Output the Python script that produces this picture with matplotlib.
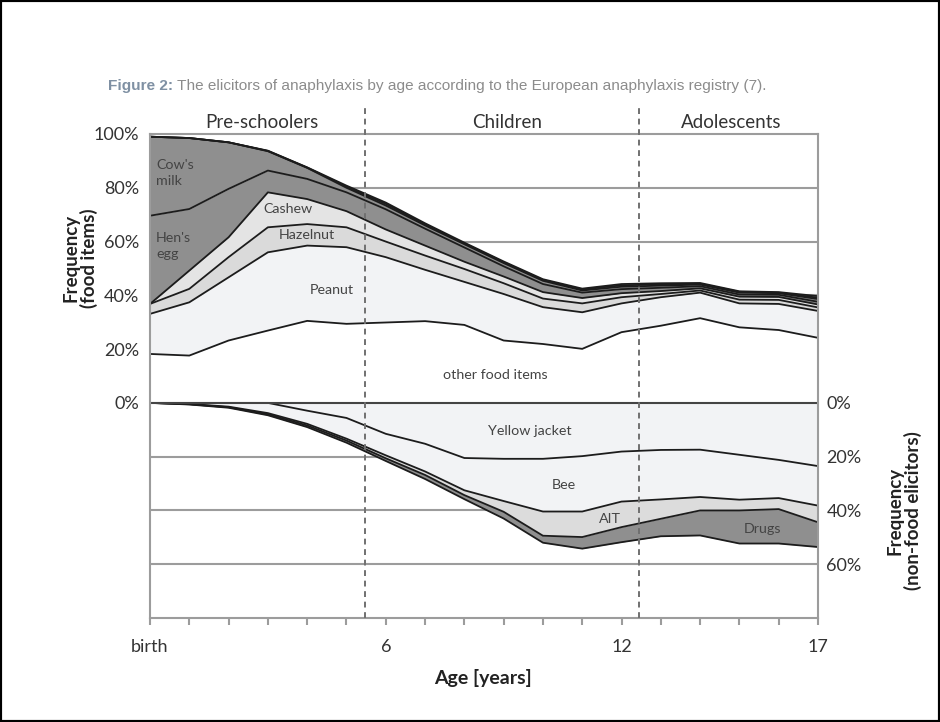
import numpy as np
import matplotlib.pyplot as plt
from matplotlib.patches import Rectangle

plt.rcParams['font.family'] = ['Lato', 'DejaVu Sans']

ages = np.arange(18)
age_ticklabels = ['birth', '', '', '', '', '', '6', '', '', '', '', '', '12', '', '', '', '', '17']
group_bounds = [5.47, 12.45]
groups = ['Pre-schoolers', 'Children', 'Adolescents']
group_centers = [2.85, 9.1, 14.8]

# food elicitors, % share per age (stacked upwards from 0)
other_food = [18.2, 17.6, 23.2, 26.9, 30.5, 29.4, 29.9, 30.4, 29.0, 23.2, 21.9, 20.1, 26.3, 28.7, 31.5, 28.1, 27.1, 24.2]
peanut = [14.9, 19.8, 23.5, 29.1, 28.0, 28.5, 24.3, 19.1, 16.0, 17.3, 13.7, 13.6, 10.7, 10.6, 9.5, 8.9, 9.7, 10.0]
hazelnut = [3.7, 5.0, 7.5, 9.3, 8.0, 7.4, 5.8, 5.3, 4.8, 4.0, 3.2, 3.3, 2.3, 1.2, 0.8, 1.4, 1.5, 1.3]
cashew = [0.0, 6.8, 7.4, 13.0, 9.3, 6.0, 4.5, 3.7, 2.7, 2.5, 2.4, 2.0, 1.5, 1.1, 0.8, 1.1, 1.1, 1.1]
hens_egg = [32.8, 22.9, 18.0, 8.1, 7.5, 7.0, 7.5, 6.3, 5.3, 3.8, 3.0, 2.0, 1.5, 1.2, 0.8, 0.8, 0.8, 1.0]
cows_milk = [29.4, 26.4, 17.3, 7.2, 4.1, 1.7, 1.4, 1.2, 1.2, 1.2, 1.2, 0.8, 0.9, 0.8, 0.6, 0.7, 0.6, 1.0]
misc_food_a = [0.0, 0.0, 0.0, 0.1, 0.1, 0.4, 0.6, 0.4, 0.3, 0.3, 0.3, 0.4, 0.5, 0.5, 0.3, 0.3, 0.2, 0.5]
misc_food_b = [0.0, 0.0, 0.0, 0.1, 0.1, 0.4, 0.5, 0.4, 0.3, 0.3, 0.3, 0.3, 0.5, 0.4, 0.3, 0.2, 0.2, 0.6]

# non-food elicitors, % share per age (stacked downwards from 0)
yellow_jacket = [0.0, 0.0, 0.0, 0.0, 2.9, 5.6, 11.5, 15.2, 20.5, 20.8, 20.8, 19.8, 18.1, 17.5, 17.4, 19.3, 21.2, 23.5]
bee = [0.0, 0.4, 1.4, 3.8, 4.9, 7.7, 8.0, 10.3, 12.0, 15.7, 19.6, 20.6, 18.6, 18.4, 17.6, 16.7, 14.2, 14.7]
ait = [0.0, 0.1, 0.2, 0.4, 0.6, 0.7, 1.1, 1.3, 1.8, 4.0, 9.0, 9.5, 9.5, 7.2, 5.0, 4.0, 4.1, 6.2]
drugs = [0.0, 0.1, 0.2, 0.4, 0.6, 0.8, 1.0, 1.5, 1.5, 2.5, 2.6, 4.3, 5.6, 6.5, 9.3, 12.3, 12.8, 9.2]

upper_ticks = [0, 20, 40, 60, 80, 100]
lower_ticks = [0, -20, -40, -60]

dark = '#8f8f8f'
upper = [(other_food, '#ffffff'), (peanut, '#f2f3f5'), (hazelnut, '#dadada'),
         (cashew, '#e4e4e4'), (hens_egg, dark), (cows_milk, dark),
         (misc_food_a, dark), (misc_food_b, dark)]
lower = [(yellow_jacket, '#f2f3f5'), (bee, '#f2f3f5'), (ait, '#dcdcdc'), (drugs, dark)]

fig = plt.figure(figsize=(9.4, 7.22), dpi=100)
ax = fig.add_axes([150 / 940, 1 - 618 / 722, 668 / 940, 484 / 722])
ax.set_xlim(0, 17)
ax.set_ylim(-80, 100)

grid_c = '#9c9c9c'
for y in [80, 60, 40, 20, -20, -40, -60]:
    ax.axhline(y, color=grid_c, lw=1.5, zorder=0)
for s in ax.spines.values():
    s.set_color(grid_c)
    s.set_linewidth(1.5)

edge = '#1c1c1c'
base = np.zeros(len(ages))
for vals, col in upper:
    top = base + np.array(vals)
    ax.fill_between(ages, base, top, color=col, lw=0, zorder=1)
    ax.plot(ages, top, color=edge, lw=1.3, zorder=2)
    base = top

base = np.zeros(len(ages))
for vals, col in lower:
    bot = base - np.array(vals)
    ax.fill_between(ages, bot, base, color=col, lw=0, zorder=1)
    ax.plot(ages, bot, color=edge, lw=1.3, zorder=2)
    base = bot

ax.axhline(0, color='#444444', lw=1.5, zorder=2)

for xb in group_bounds:
    ax.plot([xb, xb], [-80, 110.5], color='#707070', lw=1.4, ls=(0, (3, 2.4)),
            clip_on=False, zorder=3)
for name, xc in zip(groups, group_centers):
    ax.text(xc, 104.2, name, ha='center', va='center', fontsize=13.5, color='#333333')

lab_c = '#444444'
lab_fs = 10.3
ax.text(0.15, 85.5, "Cow's\nmilk", fontsize=lab_fs, color=lab_c, va='center', linespacing=1.4)
ax.text(0.15, 58.5, "Hen's\negg", fontsize=lab_fs, color=lab_c, va='center', linespacing=1.4)
ax.text(3.5, 72, 'Cashew', fontsize=lab_fs, color=lab_c, ha='center', va='center')
ax.text(4.0, 62.6, 'Hazelnut', fontsize=lab_fs, color=lab_c, ha='center', va='center')
ax.text(4.62, 42, 'Peanut', fontsize=lab_fs, color=lab_c, ha='center', va='center')
ax.text(8.8, 10.4, 'other food items', fontsize=lab_fs, color=lab_c, ha='center', va='center')
ax.text(9.67, -10.3, 'Yellow jacket', fontsize=lab_fs, color=lab_c, ha='center', va='center')
ax.text(10.52, -30.4, 'Bee', fontsize=lab_fs, color=lab_c, ha='center', va='center')
ax.text(11.7, -43.1, 'AIT', fontsize=lab_fs, color=lab_c, ha='center', va='center')
ax.text(15.6, -46.8, 'Drugs', fontsize=lab_fs, color=lab_c, ha='center', va='center')

ax.set_xticks(ages)
ax.set_xticklabels(age_ticklabels)
ax.tick_params(axis='x', direction='out', length=5, width=1.5, color=grid_c,
               pad=10, labelsize=13, labelcolor='#333333')
ax.set_yticks(upper_ticks)
ax.set_yticklabels([f'{t}%' for t in upper_ticks])
ax.tick_params(axis='y', length=0, pad=8, labelsize=13, labelcolor='#333333')

ax2 = ax.twinx()
ax2.set_ylim(-80, 100)
ax2.set_yticks(lower_ticks)
ax2.set_yticklabels([f'{-t}%' for t in lower_ticks])
ax2.tick_params(axis='y', length=0, pad=6, labelsize=13, labelcolor='#333333')
for s in ax2.spines.values():
    s.set_visible(False)

fig.text(80 / 940, 1 - 258 / 722, 'Frequency\n(food items)', rotation=90, ha='center',
         va='center', fontsize=13.5, fontweight='bold', color='#222222', linespacing=1.05)
fig.text(904 / 940, 1 - 511 / 722, 'Frequency\n(non-food elicitors)', rotation=90,
         ha='center', va='center', fontsize=13.5, fontweight='bold', color='#222222',
         linespacing=1.05)
fig.text(483 / 940, 1 - 678 / 722, 'Age [years]', ha='center', va='center',
         fontsize=14, fontweight='bold', color='#222222')

# caption
cap_font = ['Liberation Sans', 'DejaVu Sans']
t1 = fig.text(108 / 940, 1 - 86 / 722, 'Figure 2:', family=cap_font, fontweight='bold',
              fontsize=11.1, color='#7f90a3', va='center')
fig.canvas.draw()
bb = t1.get_window_extent()
fig.text((bb.x1 + 4) / 940, 1 - 86 / 722,
         'The elicitors of anaphylaxis by age according to the European anaphylaxis registry (7).',
         family=cap_font, fontsize=11.1, color='#8c8c8c', va='center')

fig.patches.append(Rectangle((0, 0), 1, 1, transform=fig.transFigure, fill=False,
                             lw=3, ec='black'))

fig.savefig('out.png', dpi=100)
